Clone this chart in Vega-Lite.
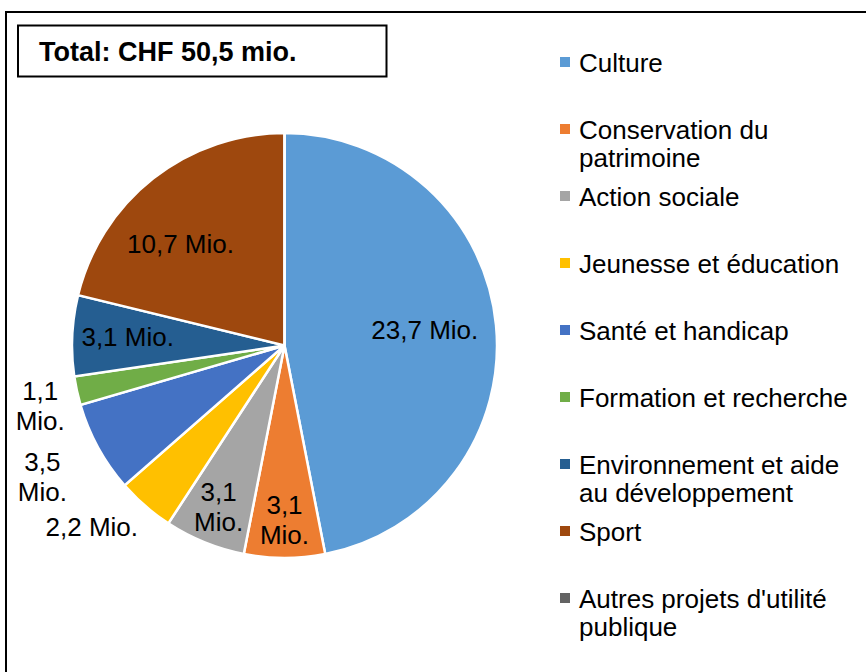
{
  "$schema": "https://vega.github.io/schema/vega-lite/v6.json",
  "width": 866,
  "height": 672,
  "autosize": {"type": "none"},
  "padding": {"left": 6, "top": 12, "right": 0, "bottom": 0},
  "background": "white",
  "config": {"view": {"stroke": null}, "font": "Liberation Sans"},
  "layer": [
    {
      "data": {"values": [{"title": "Total: CHF 50,5 mio."}]},
      "layer": [
        {"mark": {"type": "rect", "x": 0, "y": 0, "x2": {"expr": "width"}, "y2": {"expr": "height"}, "fill": null, "stroke": "black", "strokeWidth": 2}, "encoding": {}},
        {"mark": {"type": "rect", "x": 12, "x2": 380.5, "y": 13.5, "y2": 64.5, "fill": "white", "stroke": "black", "strokeWidth": 2}, "encoding": {}},
        {"mark": {"type": "text", "x": 33, "y": 41, "align": "left", "baseline": "middle", "fontSize": 27, "fontWeight": "bold", "font": "Liberation Sans", "color": "black"}, "encoding": {"text": {"field": "title", "type": "nominal"}}}
      ]
    },
    {
      "data": {"values": [
        {"category": "Culture", "value": 23.7},
        {"category": "Conservation du patrimoine", "value": 3.1},
        {"category": "Action sociale", "value": 3.1},
        {"category": "Jeunesse et éducation", "value": 2.2},
        {"category": "Santé et handicap", "value": 3.5},
        {"category": "Formation et recherche", "value": 1.1},
        {"category": "Environnement et aide au développement", "value": 3.1},
        {"category": "Sport", "value": 10.7},
        {"category": "Autres projets d'utilité publique", "value": 0}
      ]},
      "transform": [
        {"window": [{"op": "row_number", "as": "idx"}]},
        {"stack": "value", "groupby": [], "sort": [{"field": "idx", "order": "ascending"}], "as": ["v0", "v1"]},
        {"calculate": "(datum.v0 + datum.v1) / 2", "as": "mid"},
        {"calculate": "replace(format(datum.value, '.1f'), '.', ',') + ' Mio.'", "as": "lbl1"},
        {"calculate": "replace(format(datum.value, '.1f'), '.', ',') + '|Mio.'", "as": "lbl2"}
      ],
      "layer": [
        {
          "mark": {"type": "arc", "x": 278.5, "y": 333.5, "outerRadius": 212.5, "stroke": "white", "strokeWidth": 2.5},
          "encoding": {
            "theta": {"field": "v0", "type": "quantitative", "stack": null, "scale": {"domain": [0, 50.5]}},
            "theta2": {"field": "v1"},
            "color": {
              "field": "category", "type": "nominal",
              "scale": {
                "domain": ["Culture", "Conservation du patrimoine", "Action sociale", "Jeunesse et éducation", "Santé et handicap", "Formation et recherche", "Environnement et aide au développement", "Sport", "Autres projets d'utilité publique"],
                "range": ["#5B9BD5", "#ED7D31", "#A5A5A5", "#FFC000", "#4472C4", "#70AD47", "#255E91", "#9E480E", "#636363"]
              },
              "legend": {
                "orient": "none", "legendX": 546, "legendY": 26, "title": null,
                "symbolType": "M-1,1.2H1V3.2H-1Z", "symbolSize": 100, "symbolStrokeWidth": 0, "symbolOpacity": 1,
                "labelFontSize": 26, "labelFont": "Liberation Sans", "labelColor": "black", "labelLimit": 400,
                "labelOffset": 1, "labelBaseline": "top", "rowPadding": 0, "gridAlign": "all", "padding": 0,
                "labelExpr": "datum.label == 'Conservation du patrimoine' ? ['Conservation du', 'patrimoine'] : datum.label == 'Environnement et aide au développement' ? ['Environnement et aide', 'au développement'] : datum.label == \"Autres projets d'utilité publique\" ? [\"Autres projets d'utilité\", 'publique'] : datum.label",
                "encode": {"labels": {"lineHeight": {"value": 30}}}
              }
            }
          }
        },
        {
          "transform": [{"filter": {"field": "category", "equal": "Culture"}}],
          "mark": {"type": "text", "x": 278.5, "y": 333.5, "radius": 152, "dx": -11, "fontSize": 26, "font": "Liberation Sans", "color": "black", "align": "center", "baseline": "middle"},
          "encoding": {"theta": {"field": "mid", "type": "quantitative", "stack": null}, "text": {"field": "lbl1", "type": "nominal"}}
        },
        {
          "transform": [{"filter": {"field": "category", "equal": "Environnement et aide au développement"}}],
          "mark": {"type": "text", "x": 278.5, "y": 333.5, "radius": 152, "dx": -5, "fontSize": 26, "font": "Liberation Sans", "color": "black", "align": "center", "baseline": "middle"},
          "encoding": {"theta": {"field": "mid", "type": "quantitative", "stack": null}, "text": {"field": "lbl1", "type": "nominal"}}
        },
        {
          "transform": [{"filter": {"field": "category", "equal": "Sport"}}],
          "mark": {"type": "text", "x": 278.5, "y": 333.5, "radius": 128, "dx": -25, "fontSize": 26, "font": "Liberation Sans", "color": "black", "align": "center", "baseline": "middle"},
          "encoding": {"theta": {"field": "mid", "type": "quantitative", "stack": null}, "text": {"field": "lbl1", "type": "nominal"}}
        },
        {
          "transform": [{"filter": {"field": "category", "equal": "Jeunesse et éducation"}}],
          "mark": {"type": "text", "x": 278.5, "y": 333.5, "radius": 242, "dx": -34, "fontSize": 26, "font": "Liberation Sans", "color": "black", "align": "center", "baseline": "middle"},
          "encoding": {"theta": {"field": "mid", "type": "quantitative", "stack": null}, "text": {"field": "lbl1", "type": "nominal"}}
        },
        {
          "transform": [{"filter": {"field": "category", "oneOf": ["Conservation du patrimoine", "Action sociale"]}}],
          "mark": {"type": "text", "x": 278.5, "y": 333.5, "radius": 175, "dy": -15, "fontSize": 26, "font": "Liberation Sans", "color": "black", "align": "center", "baseline": "middle", "lineBreak": "|", "lineHeight": 30},
          "encoding": {"theta": {"field": "mid", "type": "quantitative", "stack": null}, "text": {"field": "lbl2", "type": "nominal"}}
        },
        {
          "transform": [{"filter": {"field": "category", "equal": "Formation et recherche"}}],
          "mark": {"type": "text", "x": 278.5, "y": 333.5, "radius": 250, "dy": -7, "fontSize": 26, "font": "Liberation Sans", "color": "black", "align": "center", "baseline": "middle", "lineBreak": "|", "lineHeight": 30},
          "encoding": {"theta": {"field": "mid", "type": "quantitative", "stack": null}, "text": {"field": "lbl2", "type": "nominal"}}
        },
        {
          "transform": [{"filter": {"field": "category", "equal": "Santé et handicap"}}],
          "mark": {"type": "text", "x": 278.5, "y": 333.5, "radius": 276, "dy": -15, "fontSize": 26, "font": "Liberation Sans", "color": "black", "align": "center", "baseline": "middle", "lineBreak": "|", "lineHeight": 30},
          "encoding": {"theta": {"field": "mid", "type": "quantitative", "stack": null}, "text": {"field": "lbl2", "type": "nominal"}}
        }
      ]
    }
  ]
}
